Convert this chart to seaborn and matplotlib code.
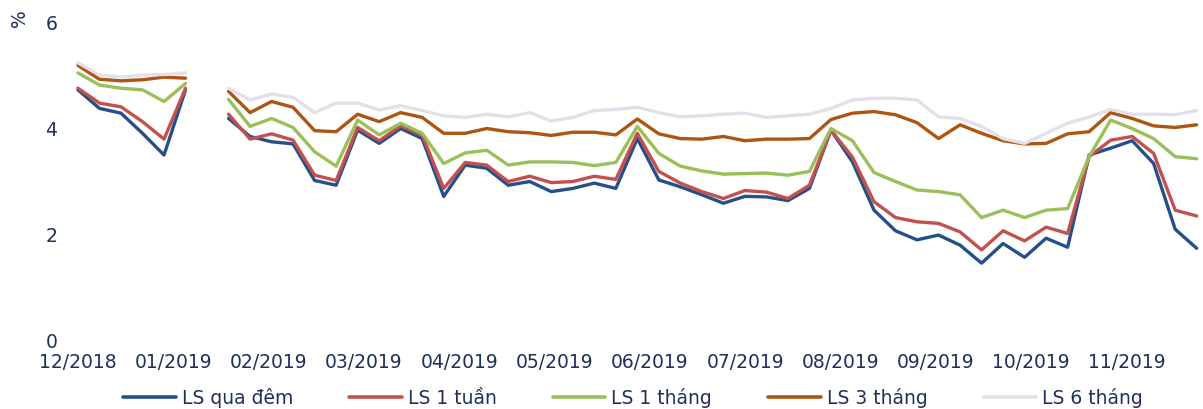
import numpy as np
import pandas as pd
import matplotlib
matplotlib.use("Agg")
import matplotlib.pyplot as plt
import seaborn as sns

nan = np.nan

month_labels = ["12/2018", "01/2019", "02/2019", "03/2019", "04/2019", "05/2019",
                "06/2019", "07/2019", "08/2019", "09/2019", "10/2019", "11/2019"]
series_names = ["LS qua đêm", "LS 1 tuần", "LS 1 tháng", "LS 3 tháng", "LS 6 tháng"]

ls_qua_dem = [4.72, 4.37, 4.28, 3.90, 3.49, 4.72, nan, 4.18, 3.84, 3.74, 3.70, 3.01, 2.92,
              3.96, 3.71, 3.99, 3.80, 2.71, 3.30, 3.24, 2.92, 2.99, 2.80, 2.86, 2.96, 2.86,
              3.80, 3.02, 2.89, 2.74, 2.58, 2.71, 2.70, 2.63, 2.86, 3.96, 3.36, 2.45, 2.06,
              1.89, 1.98, 1.79, 1.45, 1.82, 1.56, 1.92, 1.75, 3.49, 3.62, 3.76, 3.33, 2.09, 1.73]
ls_1_tuan = [4.75, 4.47, 4.40, 4.12, 3.79, 4.75, nan, 4.26, 3.79, 3.89, 3.77, 3.11, 3.01,
             4.01, 3.76, 4.04, 3.87, 2.86, 3.35, 3.30, 2.99, 3.09, 2.97, 2.99, 3.09, 3.03,
             3.90, 3.18, 2.96, 2.80, 2.67, 2.82, 2.79, 2.67, 2.92, 3.96, 3.45, 2.61, 2.31,
             2.23, 2.20, 2.04, 1.70, 2.06, 1.87, 2.13, 2.01, 3.46, 3.77, 3.84, 3.52, 2.45, 2.34]
ls_1_thang = [5.04, 4.81, 4.75, 4.72, 4.50, 4.84, nan, 4.54, 4.03, 4.18, 4.01, 3.55, 3.28,
              4.15, 3.87, 4.09, 3.90, 3.33, 3.53, 3.58, 3.30, 3.36, 3.36, 3.35, 3.29, 3.35,
              4.03, 3.52, 3.28, 3.19, 3.13, 3.14, 3.15, 3.11, 3.18, 3.99, 3.76, 3.16, 2.99,
              2.83, 2.80, 2.74, 2.31, 2.45, 2.31, 2.45, 2.48, 3.46, 4.15, 3.99, 3.80, 3.46, 3.42]
ls_3_thang = [5.18, 4.92, 4.89, 4.91, 4.96, 4.94, nan, 4.69, 4.29, 4.50, 4.39, 3.95, 3.93,
              4.26, 4.12, 4.29, 4.20, 3.90, 3.90, 3.99, 3.93, 3.91, 3.86, 3.92, 3.92, 3.87,
              4.17, 3.89, 3.80, 3.79, 3.84, 3.76, 3.79, 3.79, 3.80, 4.16, 4.28, 4.31, 4.25,
              4.10, 3.80, 4.06, 3.90, 3.76, 3.70, 3.71, 3.89, 3.93, 4.29, 4.18, 4.04, 4.01, 4.06]
ls_6_thang = [5.23, 5.00, 4.96, 5.00, 5.01, 5.04, nan, 4.75, 4.53, 4.64, 4.58, 4.29, 4.47,
              4.47, 4.34, 4.42, 4.33, 4.23, 4.20, 4.26, 4.21, 4.29, 4.13, 4.20, 4.33, 4.35,
              4.39, 4.29, 4.21, 4.23, 4.26, 4.28, 4.20, 4.23, 4.26, 4.37, 4.53, 4.56, 4.56,
              4.53, 4.21, 4.18, 4.03, 3.80, 3.71, 3.90, 4.09, 4.21, 4.35, 4.26, 4.26, 4.25, 4.33]

all_series = [ls_qua_dem, ls_1_tuan, ls_1_thang, ls_3_thang, ls_6_thang]
colors = ["#24508A", "#C4504E", "#9BBF59", "#AE5512", "#E4E0EB"]
text_color = "#1F2F5C"

rows = []
for name, vals in zip(series_names, all_series):
    seg = 0
    for i, v in enumerate(vals):
        if np.isnan(v):
            seg += 1
            continue
        rows.append({"week": i, "value": v, "series": name, "seg": seg})
df = pd.DataFrame(rows)

sns.set_theme(style="white")
plt.rcParams["font.family"] = ["DejaVu Sans"]
fs = 13.5

W, H = 1203, 409
fig = plt.figure(figsize=(W / 100, H / 100), dpi=100)
ax = fig.add_axes([67.2 / W, 1 - 340 / H, (1201 - 67.2) / W, (340 - 22) / H])

sns.lineplot(data=df, x="week", y="value", hue="series", hue_order=series_names,
             units="seg", estimator=None, palette=colors, linewidth=2.4, ax=ax, sort=True)

handles, labels = ax.get_legend_handles_labels()
if ax.get_legend() is not None:
    ax.get_legend().remove()

ax.set_xlim(-0.5, 52.2)
ax.set_ylim(0, 6)
ax.set_yticks([0, 2, 4, 6])
ax.set_yticklabels(["0", "2", "4", "6"])
tick_step = 4.43
ax.set_xticks(np.arange(len(month_labels)) * tick_step)
ax.set_xticklabels(month_labels)
ax.set_xlabel("")
ax.set_ylabel("")
sns.despine(ax=ax, left=True, bottom=True)
ax.grid(False)
ax.tick_params(axis="both", length=0, labelsize=fs, labelcolor=text_color)
ax.tick_params(axis="x", pad=9)
ax.tick_params(axis="y", pad=7)

fig.text(19 / W, 1 - 18 / H, "%", rotation=90, ha="center", va="center",
         fontsize=fs, color=text_color)

leg = fig.legend(handles, labels, ncol=5, loc="center",
                 bbox_to_anchor=(633 / W, 11 / H), frameon=False,
                 fontsize=fs, handlelength=2.8, handletextpad=0.32,
                 columnspacing=3.0, borderpad=0, borderaxespad=0)
for line in leg.get_lines():
    line.set_linewidth(2.6)
for t in leg.get_texts():
    t.set_color(text_color)

fig.savefig("out.png", dpi=100)
